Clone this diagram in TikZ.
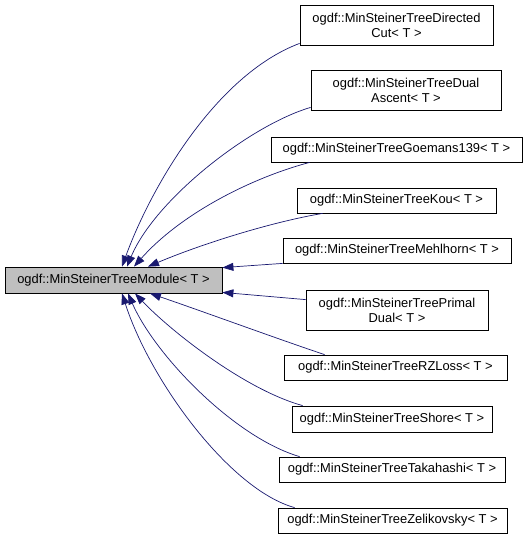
\documentclass[tikz,border=0pt]{standalone}
\usepackage{fontspec}
\setmainfont{Liberation Sans}
\usetikzlibrary{arrows.meta, positioning}
\definecolor{edgeblue}{RGB}{25,25,112}
\definecolor{basegray}{RGB}{191,191,191}

\begin{document}
\begin{tikzpicture}[x=1pt, y=1pt,
  cls/.style={draw, line width=0.8pt, fill=white, align=center, inner sep=0pt, font=\fontsize{12.9}{15}\selectfont},
  basecls/.style={cls, fill=basegray},
  inharrow/.style={draw=edgeblue, line width=0.7pt, {Triangle[length=11pt, width=8pt, fill=edgeblue]}-}]
  \useasboundingbox (0,0) rectangle (528,-539);

  % base class
  \node[basecls, minimum width=217pt, minimum height=26pt] (base) at (113.5,-280) {ogdf::MinSteinerTreeModule< T >};

  % derived classes
  \node[cls, minimum width=193pt, minimum height=40pt] (dcut) at (396.5,-25) {ogdf::MinSteinerTreeDirected\\Cut< T >};
  \node[cls, minimum width=190pt, minimum height=40pt] (dual) at (406,-90) {ogdf::MinSteinerTreeDual\\Ascent< T >};
  \node[cls, minimum width=251pt, minimum height=25pt] (goem) at (396.5,-149.5) {ogdf::MinSteinerTreeGoemans139< T >};
  \node[cls, minimum width=199pt, minimum height=25pt] (kou) at (396.5,-200.5) {ogdf::MinSteinerTreeKou< T >};
  \node[cls, minimum width=228pt, minimum height=25pt] (mehl) at (397,-250.5) {ogdf::MinSteinerTreeMehlhorn< T >};
  \node[cls, minimum width=182pt, minimum height=40pt] (primal) at (397,-310) {ogdf::MinSteinerTreePrimal\\Dual< T >};
  \node[cls, minimum width=223pt, minimum height=25pt] (rzl) at (395.5,-367.5) {ogdf::MinSteinerTreeRZLoss< T >};
  \node[cls, minimum width=200pt, minimum height=26pt] (shore) at (392,-419) {ogdf::MinSteinerTreeShore< T >};
  \node[cls, minimum width=226pt, minimum height=25pt] (taka) at (392,-469.5) {ogdf::MinSteinerTreeTakahashi< T >};
  \node[cls, minimum width=229pt, minimum height=25pt] (zel) at (392.5,-520.5) {ogdf::MinSteinerTreeZelikovsky< T >};

  % inheritance edges
  \draw[inharrow] ([xshift=8.5pt]base.north) .. controls +(28,77) and +(-85,-32) .. ([yshift=2pt]dcut.south west);
  \draw[inharrow] ([xshift=13.5pt]base.north) .. controls +(28,67) and +(-61,-18) .. ([yshift=3pt]dual.south west);
  \draw[inharrow] ([xshift=20.5pt]base.north) .. controls +(46,52) and +(-60,-16) .. ([xshift=39pt]goem.south west);
  \draw[inharrow] ([xshift=34.5pt]base.north) .. controls +(52,22) and +(-53,-9) .. ([xshift=26pt]kou.south west);
  \draw[inharrow] ([yshift=-1pt]base.north east) -- (mehl.south west);
  \draw[inharrow] ([yshift=1pt]base.south east) -- ([yshift=-10pt]primal.north west);
  \draw[inharrow] ([xshift=36.5pt]base.south) .. controls +(50,-17) and +(-45,15) .. ([xshift=41pt]rzl.north west);
  \draw[inharrow] ([xshift=21.5pt]base.south) .. controls +(35,-37) and +(-58,16) .. ([xshift=11pt]shore.north west);
  \draw[inharrow] ([xshift=14.5pt]base.south) .. controls +(27,-62) and +(-65,19) .. ([xshift=21pt]taka.north west);
  \draw[inharrow] ([xshift=8.5pt]base.south) .. controls +(28,-87) and +(-65,18) .. ([xshift=17pt]zel.north west);
\end{tikzpicture}
\end{document}
